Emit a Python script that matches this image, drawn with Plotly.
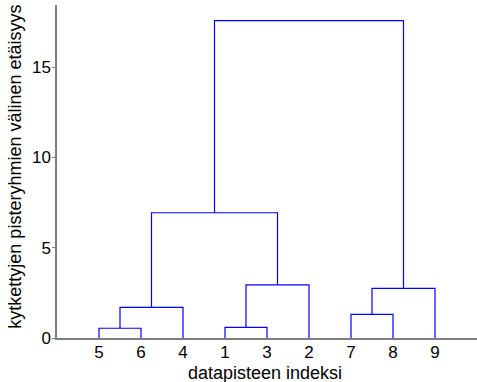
import plotly.graph_objects as go

# Leaf order along the x axis (data point indices)
leaf_order = [5, 6, 4, 1, 3, 2, 7, 8, 9]

# Linkage: each merge joins two clusters (leaf labels or earlier merge names) at a height
merge_names = ["A", "B", "C", "D", "E", "F", "G", "H"]
merge_left = ["5", "1", "7", "A", "C", "B", "D", "G"]
merge_right = ["6", "3", "8", "4", "9", "2", "F", "E"]
merge_heights = [0.54, 0.59, 1.31, 1.70, 2.75, 2.94, 6.94, 17.58]

y_ticks = [0, 5, 10, 15]

pos = {str(l): i + 1 for i, l in enumerate(leaf_order)}
hgt = {str(l): 0.0 for l in leaf_order}

xs, ys = [], []
for name, l, r, h in zip(merge_names, merge_left, merge_right, merge_heights):
    xl, xr = pos[l], pos[r]
    xs += [xl, xl, xr, xr, None]
    ys += [hgt[l], h, h, hgt[r], None]
    pos[name] = (xl + xr) / 2
    hgt[name] = h

fig = go.Figure()
fig.add_trace(go.Scatter(x=xs, y=ys, mode="lines",
                         line=dict(color="#0000ff", width=1.2),
                         hoverinfo="skip", showlegend=False))

fam = "Liberation Sans, Arial, sans-serif"
tick_font = dict(family=fam, size=17, color="#000000")
title_font = dict(family=fam, size=18, color="#000000")

fig.update_layout(
    width=477, height=382,
    margin=dict(l=57, r=0, t=5, b=44),
    paper_bgcolor="white", plot_bgcolor="white",
    font=tick_font,
    xaxis=dict(range=[0, 10], tickvals=list(range(1, len(leaf_order) + 1)),
               ticktext=[str(v) for v in leaf_order], ticks="",
               showline=True, linecolor="#808080", linewidth=1.5,
               showgrid=False, zeroline=False, automargin=False,
               ticklabelstandoff=-2, tickfont=tick_font),
    yaxis=dict(range=[0, 18.45], tickvals=y_ticks, ticks="outside", ticklen=3,
               tickcolor="#808080", showline=True, linecolor="#808080", linewidth=1.5,
               showgrid=False, zeroline=False, automargin=False,
               ticklabelstandoff=-2, tickfont=tick_font),
    annotations=[
        dict(text="datapisteen indeksi", xref="paper", yref="paper",
             x=0.496, y=-0.105, xanchor="center", yanchor="middle",
             showarrow=False, font=title_font),
        dict(text="kytkettyjen pisteryhmien välinen etäisyys", xref="paper", yref="paper",
             x=-0.102, y=0.515, xanchor="center", yanchor="middle", textangle=-90,
             showarrow=False, font=title_font),
    ],
)
fig.write_html("out.html", config={"displayModeBar": False},
               post_script="document.body.style.margin='0';")
